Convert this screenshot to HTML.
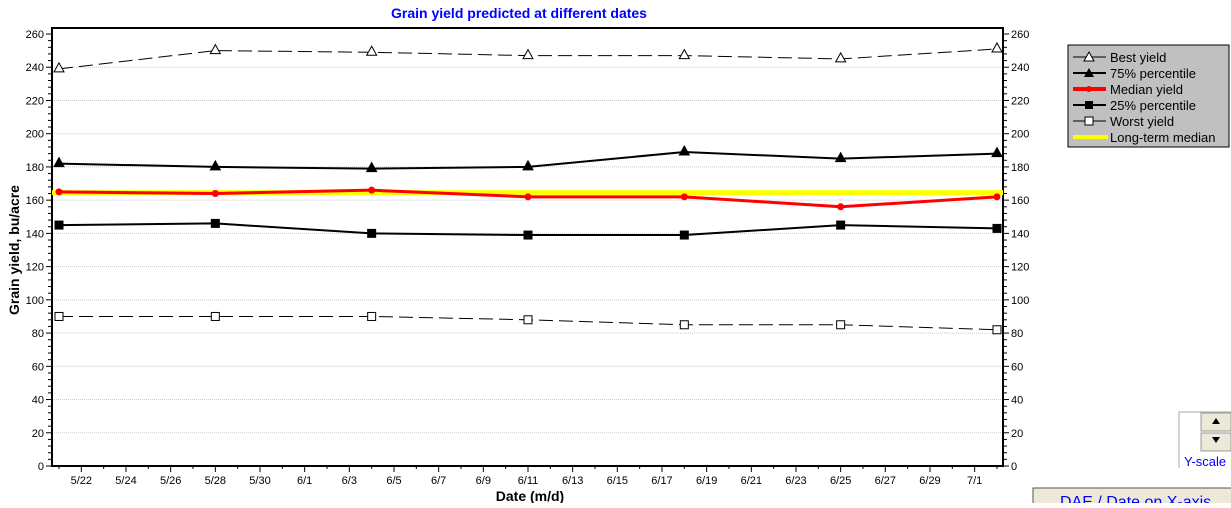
<!DOCTYPE html>
<html><head><meta charset="utf-8"><style>
body{margin:0;background:#fff;width:1231px;height:503px;overflow:hidden;font-family:"Liberation Sans",Arial,sans-serif;}
svg text{font-family:"Liberation Sans",Arial,sans-serif;}
</style></head><body>
<svg id="s" width="1231" height="503" xmlns="http://www.w3.org/2000/svg">
<text x="519" y="18" fill="#0000ff" font-size="14" font-weight="bold" text-anchor="middle">Grain yield predicted at different dates</text>
<g id="grid"></g>
<rect x="52" y="28" width="951" height="438" fill="none" stroke="#000" stroke-width="2"/>
<g id="ticks"></g>
<text transform="translate(19,250) rotate(-90)" font-size="14" font-weight="bold" text-anchor="middle">Grain yield, bu/acre</text>
<text x="530" y="501" font-size="14" font-weight="bold" text-anchor="middle">Date (m/d)</text>
<g id="series"></g>
<rect x="1068" y="45" width="161" height="102" fill="#c0c0c0" stroke="#000" stroke-width="1"/>
<g font-size="13" fill="#000">
<line x1="1073" y1="57" x2="1106" y2="57" stroke="#000"/><polygon points="1089,52 1094,61 1084,61" fill="#fff" stroke="#000"/><text x="1110" y="62">Best yield</text>
<line x1="1073" y1="73" x2="1106" y2="73" stroke="#000" stroke-width="2"/><polygon points="1089,68 1094,77 1084,77" fill="#000"/><text x="1110" y="78">75% percentile</text>
<line x1="1073" y1="89" x2="1106" y2="89" stroke="#f00" stroke-width="4"/><circle cx="1089" cy="89" r="3" fill="#f00"/><text x="1110" y="94">Median yield</text>
<line x1="1073" y1="105" x2="1106" y2="105" stroke="#000" stroke-width="2"/><rect x="1085" y="101" width="8" height="8" fill="#000"/><text x="1110" y="110">25% percentile</text>
<line x1="1073" y1="121" x2="1106" y2="121" stroke="#000"/><rect x="1085" y="117" width="8" height="8" fill="#fff" stroke="#000"/><text x="1110" y="126">Worst yield</text>
<line x1="1073" y1="137" x2="1108" y2="137" stroke="#ffff00" stroke-width="4"/><text x="1110" y="142">Long-term median</text>
</g>
<path d="M1179,468 V412 H1231" fill="none" stroke="#aaa"/>
<rect x="1201" y="413" width="30" height="18" fill="#ece9d8" stroke="#999"/>
<polygon points="1216,418 1220,424 1212,424" fill="#000"/>
<rect x="1201" y="433" width="30" height="18" fill="#ece9d8" stroke="#999"/>
<polygon points="1212,437 1220,437 1216,443" fill="#000"/>
<text x="1184" y="466" font-size="13" fill="#0000ff">Y-scale</text>
<rect x="1033" y="488" width="200" height="20" fill="#ece9d8" stroke="#555"/>
<text x="1060" y="507" font-size="16" fill="#0000ff">DAE / Date on X-axis</text>
</svg>
<script>
var NS="http://www.w3.org/2000/svg";
function el(p,t,a,txt){var e=document.createElementNS(NS,t);for(var k in a)e.setAttribute(k,a[k]);if(txt!=null)e.textContent=txt;document.getElementById(p).appendChild(e);return e;}
function Y(v){return 466-v*432/260;}
function X(d){return 59+d*156.33/7;}
for(var v=0;v<=260;v+=20){var y=Y(v);
 if(v>0&&v<260)el("grid","line",{x1:52,x2:1003,y1:y,y2:y,stroke:"#ccc","stroke-dasharray":"1,1"});
 el("ticks","line",{x1:46,x2:52,y1:y,y2:y,stroke:"#000"});
 el("ticks","line",{x1:1003,x2:1009,y1:y,y2:y,stroke:"#000"});
 el("ticks","text",{x:44,y:y+4,"font-size":"11","text-anchor":"end"},v);
 el("ticks","text",{x:1011,y:y+4,"font-size":"11"},v);
 for(var m=4;m<20&&v<260;m+=4){var ym=Y(v+m);
  el("ticks","line",{x1:48,x2:52,y1:ym,y2:ym,stroke:"#000"});
  el("ticks","line",{x1:1003,x2:1007,y1:ym,y2:ym,stroke:"#000"});}
}
var labs=["5/22","5/24","5/26","5/28","5/30","6/1","6/3","6/5","6/7","6/9","6/11","6/13","6/15","6/17","6/19","6/21","6/23","6/25","6/27","6/29","7/1"];
for(var d=0;d<=42;d++){var x=X(d);if(x<53||x>1002)continue;
 var maj=(d%2==1);
 el("ticks","line",{x1:x,x2:x,y1:466,y2:maj?472:469,stroke:"#000"});
 if(maj)el("ticks","text",{x:x,y:484,"font-size":"11","text-anchor":"middle"},labs[(d-1)/2]);
}
var S=[
 {v:[239,250,249,247,247,245,251],c:"#000",w:1,dash:"14,6",m:"tri",f:"#fff"},
 {v:[182,180,179,180,189,185,188],c:"#000",w:2,m:"tri",f:"#000"},
 {v:[145,146,140,139,139,145,143],c:"#000",w:2,m:"sq",f:"#000"},
 {v:[90,90,90,88,85,85,82],c:"#000",w:1,dash:"14,6",m:"sq",f:"#fff"}
];
el("series","line",{x1:52,x2:1003,y1:Y(164.5),y2:Y(164.5),stroke:"#ffff00","stroke-width":5});
var med=[165,164,166,162,162,156,162];
function pts(a){return a.map(function(v,i){return X(i*7)+","+Y(v)}).join(" ");}
el("series","polyline",{points:pts(med),fill:"none",stroke:"#f00","stroke-width":3});
med.forEach(function(v,i){el("series","circle",{cx:X(i*7),cy:Y(v),r:3.5,fill:"#f00"});});
S.forEach(function(s){
 var a={points:pts(s.v),fill:"none",stroke:s.c,"stroke-width":s.w};if(s.dash)a["stroke-dasharray"]=s.dash;
 el("series","polyline",a);
 s.v.forEach(function(v,i){var x=X(i*7),y=Y(v);
  if(s.m=="tri")el("series","polygon",{points:(x)+","+(y-6)+" "+(x+5)+","+(y+3)+" "+(x-5)+","+(y+3),fill:s.f,stroke:"#000"});
  else el("series","rect",{x:x-4,y:y-4,width:8,height:8,fill:s.f,stroke:"#000"});
 });
});
</script>
</body></html>
